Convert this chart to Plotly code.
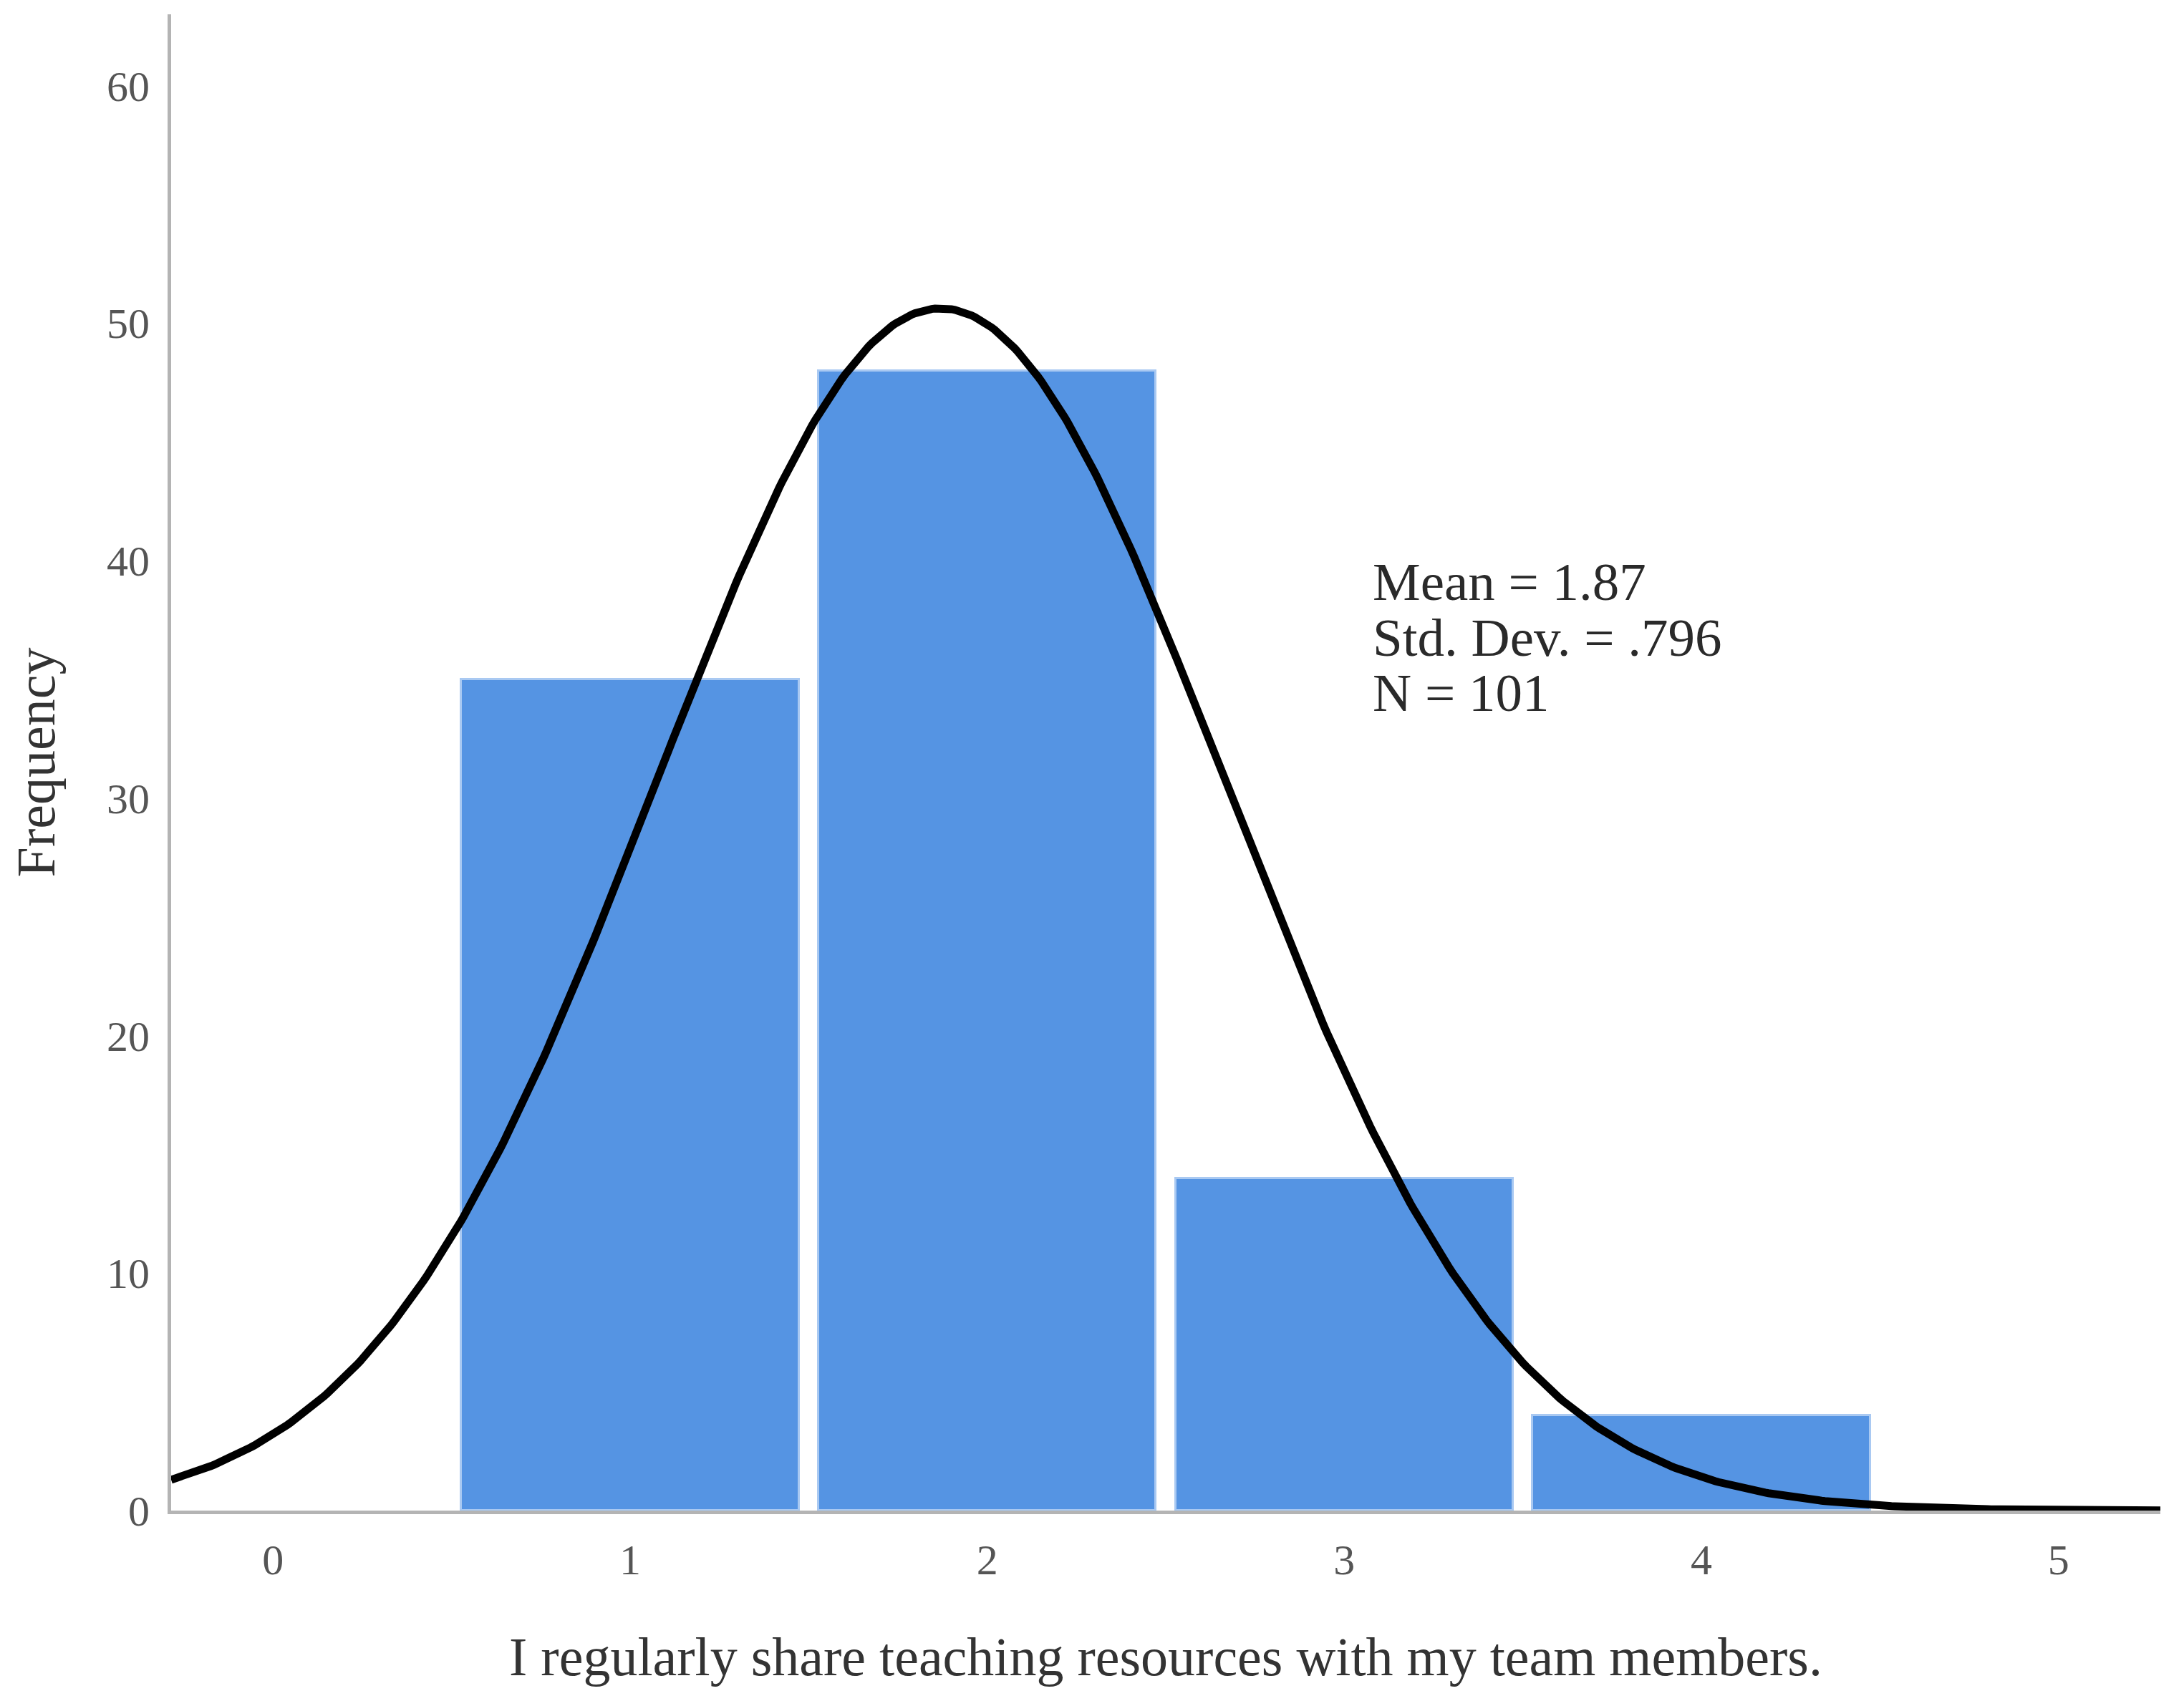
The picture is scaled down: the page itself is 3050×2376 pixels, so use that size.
import numpy as np
import plotly.graph_objects as go

# Data
categories = [1, 2, 3, 4]
frequencies = [35, 48, 14, 4]
mean_val = 1.87
std_dev = 0.796
n_total = 101
x_ticks = [0, 1, 2, 3, 4, 5]
y_ticks = [0, 10, 20, 30, 40, 50, 60]
x_title = "I regularly share teaching resources with my team members."
y_title = "Frequency"
stats_lines = ["Mean = 1.87", "Std. Dev. = .796", "N = 101"]
stats_y = [39.1, 36.75, 34.45]

x_range = [-0.285, 5.285]
y_range = [0, 63]

# Fitted normal curve from the reported statistics
xs = np.linspace(x_range[0], x_range[1], 600)
ys = n_total * 1.0 / (std_dev * np.sqrt(2 * np.pi)) * np.exp(-0.5 * ((xs - mean_val) / std_dev) ** 2)

font_family = "Liberation Serif, Times New Roman, serif"

fig = go.Figure()
fig.add_trace(go.Bar(
    x=categories, y=frequencies, width=0.945,
    marker=dict(color="#5594e3", line=dict(color="#a9c9f2", width=3)),
    showlegend=False, hoverinfo="x+y",
))
fig.add_trace(go.Scatter(
    x=xs, y=ys, mode="lines",
    line=dict(color="black", width=11),
    showlegend=False, hoverinfo="skip",
))

for txt, yv in zip(stats_lines, stats_y):
    fig.add_annotation(
        x=3.075, y=yv, xref="x", yref="y",
        xanchor="left", yanchor="middle", align="left", showarrow=False,
        text=txt,
        font=dict(family=font_family, size=75, color="#2a2a2a"),
    )

fig.update_layout(
    width=3050, height=2376,
    margin=dict(l=231, r=41, t=12, b=274),
    paper_bgcolor="white", plot_bgcolor="white",
    bargap=0,
    font=dict(family=font_family),
)
fig.update_xaxes(
    range=x_range, tickvals=x_ticks, ticktext=[str(v) for v in x_ticks],
    showgrid=False, zeroline=False,
    showline=True, linecolor="#b4b4b4", linewidth=5,
    ticks="", ticklabelstandoff=12,
    tickfont=dict(family=font_family, size=60, color="#555555"),
    title=dict(text=x_title, font=dict(family=font_family, size=76, color="#333333"), standoff=77),
)
fig.update_yaxes(
    range=y_range, tickvals=y_ticks,
    showgrid=False, zeroline=False,
    showline=True, linecolor="#b4b4b4", linewidth=5,
    ticks="", ticklabelstandoff=13,
    tickfont=dict(family=font_family, size=60, color="#555555"),
    title=dict(text=y_title, font=dict(family=font_family, size=76, color="#333333"), standoff=55),
)

fig.write_html("out.html")
